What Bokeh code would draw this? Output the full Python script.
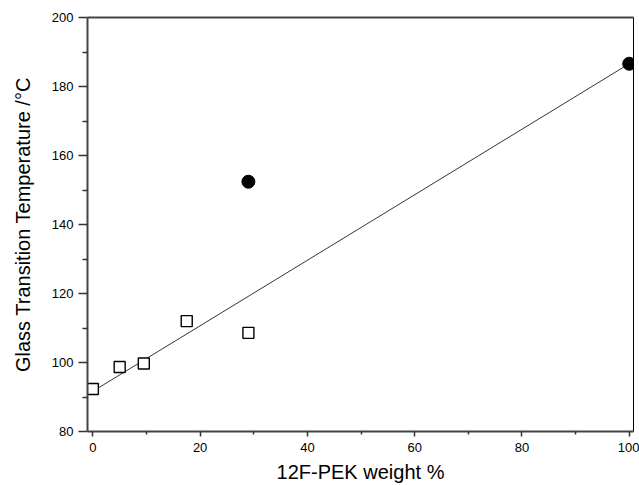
from bokeh.plotting import figure
from bokeh.models import LinearAxis, Range1d, FixedTicker
from bokeh.embed import file_html
from bokeh.resources import INLINE

# Data
square_x = [0, 5, 9.5, 17.5, 29]
square_y = [92.3, 98.7, 99.7, 112.0, 108.6]
circle_x = [29, 100]
circle_y = [152.4, 186.6]
fit_x = [-0.8, 100]
fit_y = [90.9, 186.6]

x_ticks = [0, 20, 40, 60, 80, 100]
x_minor = [10, 30, 50, 70, 90]
y_ticks = [80, 100, 120, 140, 160, 180, 200]
y_minor = [90, 110, 130, 150, 170, 190]

FONT = "Liberation Sans"

p = figure(width=639, height=485, output_backend="svg", toolbar_location=None,
           x_range=Range1d(-1, 100.8), y_range=Range1d(80, 200),
           min_border_left=87, min_border_top=17, min_border_right=6,
           min_border_bottom=54)
p.outline_line_color = None
p.grid.visible = False
p.background_fill_color = "white"
p.border_fill_color = "white"

p.line(fit_x, fit_y, line_color="black", line_width=0.8)
p.scatter(square_x, square_y, marker="square", size=11, fill_color="white",
          line_color="black", line_width=1.4)
p.scatter(circle_x, circle_y, marker="circle", size=13, fill_color="black",
          line_color="black")

xa = p.xaxis[0]
xa.ticker = FixedTicker(ticks=x_ticks, minor_ticks=x_minor)
xa.axis_label = "12F-PEK weight %"
ya = p.yaxis[0]
ya.ticker = FixedTicker(ticks=y_ticks, minor_ticks=y_minor)
ya.axis_label = "Glass Transition Temperature /°C"

for ax in (xa, ya):
    ax.axis_line_color = "#444444"
    ax.axis_line_width = 2
    ax.major_tick_line_color = "#333333"
    ax.minor_tick_line_color = "#333333"
    ax.major_tick_line_width = 1.5
    ax.minor_tick_line_width = 1.5
    ax.major_tick_in = 0
    ax.minor_tick_in = 0
    ax.major_label_text_font = FONT
    ax.major_label_text_font_size = "13px"
    ax.major_label_text_color = "black"
    ax.axis_label_text_font = FONT
    ax.axis_label_text_font_size = "20px"
    ax.axis_label_text_font_style = "normal"
    ax.axis_label_text_color = "black"

xa.major_tick_out = 5
xa.minor_tick_out = 3
xa.major_label_standoff = 6
xa.axis_label_standoff = 6
ya.major_tick_out = 9
ya.minor_tick_out = 5
ya.major_label_standoff = 5
ya.axis_label_standoff = 15

top = LinearAxis(ticker=FixedTicker(ticks=[]), major_label_text_font_size="0px",
                 axis_line_color="#444444", axis_line_width=2,
                 major_tick_line_color=None, minor_tick_line_color=None)
right = LinearAxis(ticker=FixedTicker(ticks=[]), major_label_text_font_size="0px",
                   axis_line_color="black", axis_line_width=1,
                   major_tick_line_color=None, minor_tick_line_color=None)
p.add_layout(top, "above")
p.add_layout(right, "right")

open("out.html", "w").write(file_html(p, INLINE))
